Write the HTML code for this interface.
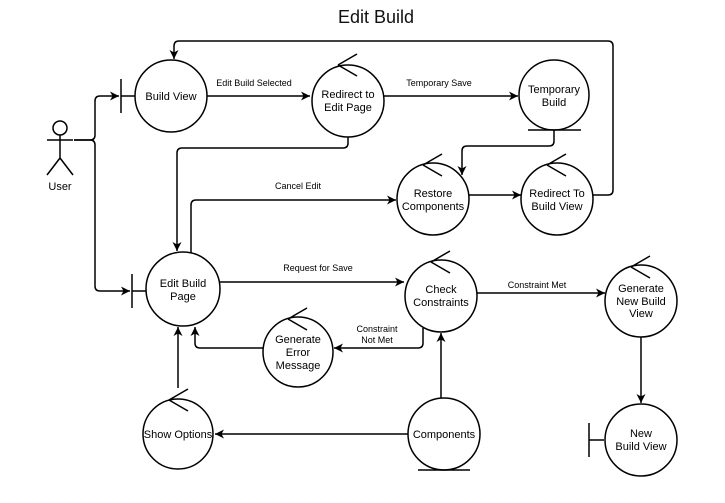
<!DOCTYPE html>
<html><head><meta charset="utf-8"><style>
html,body{margin:0;padding:0;background:#fff;}
svg{display:block;font-family:"Liberation Sans",Arial,sans-serif;}
</style></head><body>
<svg width="725" height="503" viewBox="0 0 725 503" xmlns="http://www.w3.org/2000/svg">
<defs>
<marker id="a" markerWidth="10" markerHeight="10" refX="9" refY="5" orient="auto" markerUnits="userSpaceOnUse">
<path d="M0,0.5 L9,5 L0,9.5 L2.5,5 Z" fill="#000"/></marker>
</defs>
<text x="376" y="23" font-size="18" text-anchor="middle" fill="#111">Edit Build</text>
<g fill="none" stroke="#000" stroke-width="1.5">
<!-- actor -->
<circle cx="60" cy="128" r="7"/>
<path d="M60 135 V158 M47 140 H73 M60 158 L47 175 M60 158 L73 175"/>
<!-- user links -->
<path d="M74 140 H90 Q95 140 95 135 V101 Q95 96 100 96 H119" marker-end="url(#a)"/>
<path d="M74 140 H90 Q95 140 95 145 V286 Q95 291 100 291 H130" marker-end="url(#a)"/>
<!-- boundaries -->
<path d="M121 79 V113 M121 96 H135"/>
<path d="M132 274 V308 M132 291 H146"/>
<path d="M589 423 V457 M589 440 H604"/>
<!-- circles -->
<circle cx="171" cy="96" r="36"/>
<circle cx="348" cy="101" r="36"/>
<circle cx="554" cy="95" r="35"/>
<path d="M528 130 H581"/>
<circle cx="433" cy="199" r="36"/>
<circle cx="557" cy="199" r="36"/>
<circle cx="183" cy="289" r="37"/>
<circle cx="441" cy="296" r="36"/>
<circle cx="641" cy="301" r="36"/>
<circle cx="641" cy="440" r="36"/>
<circle cx="444" cy="434" r="36"/>
<path d="M418 470 H470"/>
<circle cx="298" cy="352" r="35"/>
<circle cx="178" cy="434" r="35"/>
<!-- controller marks -->
<path d="M338 65 L357 54 M338 65 L357 76"/>
<path d="M423 165 L442 154 M423 165 L442 176"/>
<path d="M547 165 L566 154 M547 165 L566 176"/>
<path d="M431 262 L450 251 M431 262 L450 273"/>
<path d="M631 267 L650 256 M631 267 L650 278"/>
<path d="M288 319 L307 308 M288 319 L307 330"/>
<path d="M169 400 L188 389 M169 400 L188 411"/>
<!-- connectors -->
<path d="M207 96 H310" marker-end="url(#a)"/>
<path d="M384 96 H518" marker-end="url(#a)"/>
<path d="M593 195 H608 Q613 195 613 190 V46 Q613 41 608 41 H179 Q174 41 174 46 V59" marker-end="url(#a)"/>
<path d="M348 137 V143 Q348 148 343 148 H182 Q177 148 177 153 V251" marker-end="url(#a)"/>
<path d="M191 253 V205 Q191 200 196 200 H396" marker-end="url(#a)"/>
<path d="M554 130 V141 Q554 146 549 146 H467 Q462 146 462 151 V175" marker-end="url(#a)"/>
<path d="M469 195 H521" marker-end="url(#a)"/>
<path d="M220 282 H404" marker-end="url(#a)"/>
<path d="M477 293 H605" marker-end="url(#a)"/>
<path d="M423 328 V343 Q423 348 418 348 H334" marker-end="url(#a)"/>
<path d="M263 348 H200 Q195 348 195 343 V327" marker-end="url(#a)"/>
<path d="M178 388 V327" marker-end="url(#a)"/>
<path d="M408 434 H215" marker-end="url(#a)"/>
<path d="M441 398 V333" marker-end="url(#a)"/>
<path d="M641 337 V403" marker-end="url(#a)"/>
</g>
<g font-size="11" fill="#000" text-anchor="middle">
<text x="60" y="190">User</text>
<text x="171" y="100">Build View</text>
<text x="348" y="98">Redirect to</text><text x="348" y="111">Edit Page</text>
<text x="554" y="93">Temporary</text><text x="554" y="106">Build</text>
<text x="433" y="197">Restore</text><text x="433" y="210">Components</text>
<text x="557" y="197">Redirect To</text><text x="557" y="210">Build View</text>
<text x="183" y="287">Edit Build</text><text x="183" y="300">Page</text>
<text x="441" y="293">Check</text><text x="441" y="306">Constraints</text>
<text x="641" y="292">Generate</text><text x="641" y="305">New Build</text><text x="641" y="317">View</text>
<text x="641" y="437">New</text><text x="641" y="450">Build View</text>
<text x="444" y="438">Components</text>
<text x="298" y="343">Generate</text><text x="298" y="356">Error</text><text x="298" y="369">Message</text>
<text x="178" y="438">Show Options</text>
</g>
<g font-size="9" fill="#000" text-anchor="middle">
<text x="254" y="86">Edit Build Selected</text>
<text x="439" y="86">Temporary Save</text>
<text x="298" y="189">Cancel Edit</text>
<text x="318" y="271">Request for Save</text>
<text x="537" y="288">Constraint Met</text>
<text x="377" y="332">Constraint</text><text x="377" y="343">Not Met</text>
</g>
</svg>
</body></html>
